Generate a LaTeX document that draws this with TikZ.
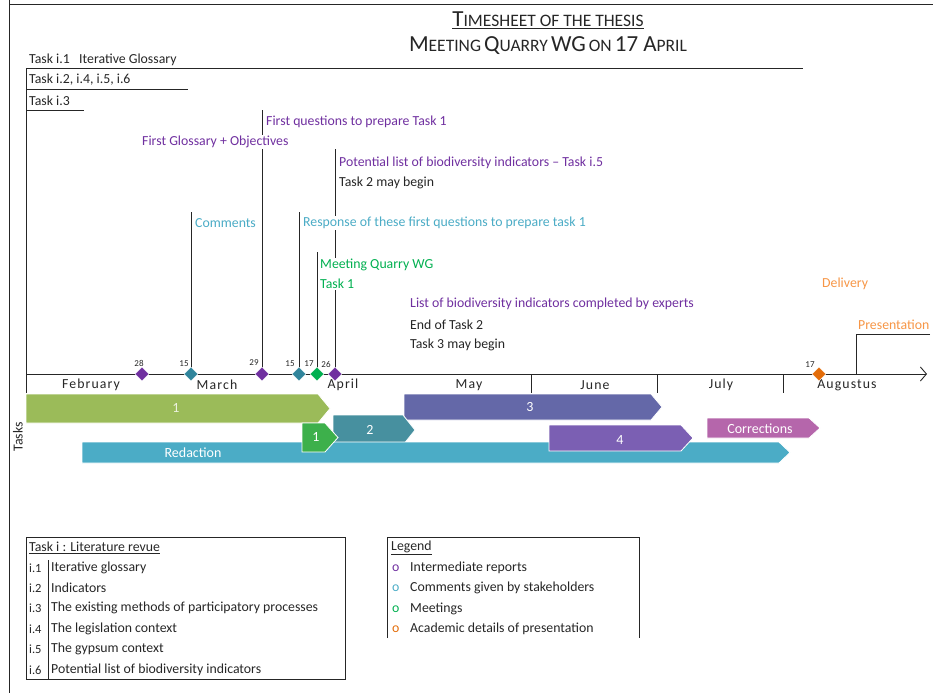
\documentclass[tikz,border=0pt]{standalone}
\usepackage{fontspec}
\setmainfont{Carlito}
\newfontfamily\spacedfont[LetterSpace=8]{Carlito}
\usetikzlibrary{arrows.meta,positioning,shapes.geometric,calc,backgrounds}
\definecolor{report}{HTML}{7030A0}
\definecolor{comment}{HTML}{4BACC6}
\definecolor{commentdk}{HTML}{31859C}
\definecolor{meeting}{HTML}{00B050}
\definecolor{academic}{HTML}{E36C09}
\definecolor{academictxt}{HTML}{F79646}
\definecolor{olivebar}{HTML}{9BBB59}
\definecolor{slatebar}{HTML}{6468A8}
\definecolor{tealbar}{HTML}{47909F}
\definecolor{greenbar}{HTML}{3DB04B}
\definecolor{violetbar}{HTML}{7B5FB3}
\definecolor{pinkbar}{HTML}{B566AB}
\definecolor{ink}{HTML}{262626}
% fake small caps for the title
\newcommand{\scbig}[1]{{\fontsize{23}{25}\selectfont #1}}
\newcommand{\scsmall}[1]{{\fontsize{17.5}{19}\selectfont #1}}
% chevron bar: colour, left, tip, top, bottom, tip length
\newcommand{\taskbar}[6]{%
  \filldraw[fill=#1,draw=white,line width=0.8pt] (#2,#4) -- ({#3-#6},#4) -- (#3,{(#4+#5)/2}) -- ({#3-#6},#5) -- (#2,#5) -- cycle;}

\begin{document}
\begin{tikzpicture}[x=1pt,y=-1pt,
  every node/.style={font=\fontsize{13.8}{16}\selectfont,inner sep=0pt,text=ink},
  rule/.style={draw=ink,line width=0.9pt},
  ev/.style={anchor=west,fill=white,inner sep=1pt},
  mile/.style={diamond,draw=white,line width=0.4pt,minimum size=14pt,inner sep=0pt},
  daylab/.style={font=\fontsize{9}{10}\selectfont},
  month/.style={font=\spacedfont\fontsize{13.8}{16}\selectfont},
  barlab/.style={text=white,font=\fontsize{14}{16}\selectfont},
  leg/.style={anchor=west,font=\fontsize{13.8}{16}\selectfont}]
\useasboundingbox (0,0) rectangle (933,693);
% frame
\draw[rule] (9,0) -- (9,693);
\draw[rule] (9,4) -- (933,4);

% title
\node (title) at (548,20) {\underline{\scbig{T}\scsmall{IMESHEET OF THE THESIS}}};
\node (subtitle) at (548,46) {\scbig{M}\scsmall{EETING} \scbig{Q}\scsmall{UARRY} \scbig{WG} \scsmall{ON} \scbig{17 A}\scsmall{PRIL}};

% task lines
\node[anchor=west] (ti1) at (29,60) {Task i.1 \ \ Iterative Glossary};
\node[anchor=west] (ti2) at (29,80) {Task i.2, i.4, i.5, i.6};
\node[anchor=west] (ti3) at (29,101) {Task i.3};
\draw[rule] (26,393) -- (26,68) -- (803,68);
\draw[rule] (26,89) -- (188,89);
\draw[rule] (26,110) -- (84,110);

% time axis
\draw[rule,-{Straight Barb[length=6pt,width=14pt]}] (26,374) -- (927,374);
\foreach \x in {531,657,783}
  \draw[rule] (\x,374) -- (\x,393);
\foreach \m/\x in {February/91,March/217,April/343,May/469,June/595,July/721,Augustus/847}
  \node[month] (m\m) at (\x,385) {\m};

% milestones
\node[mile,fill=report] (d28) at (142,374) {};
\node[mile,fill=commentdk] (d15a) at (191,374) {};
\node[mile,fill=report] (d29) at (262,374) {};
\node[mile,fill=commentdk] (d15b) at (299,374) {};
\node[mile,fill=meeting] (d17a) at (317,374) {};
\node[mile,fill=report] (d26) at (335,374) {};
\node[mile,fill=academic] (d17b) at (819,374) {};
\node[daylab] (l28) at (139,363) {28};
\node[daylab] (l15a) at (184,364) {15};
\node[daylab] (l29) at (254,363) {29};
\node[daylab] (l15b) at (290,364) {15};
\node[daylab] (l17a) at (309,364) {17};
\node[daylab] (l26) at (326,364) {26};
\node[daylab] (l17b) at (810,365) {17};

% stems
\coordinate (t15a) at (191,212);
\coordinate (t29) at (262,110);
\coordinate (t15b) at (299,212);
\coordinate (t17a) at (317,252);
\coordinate (t26) at (335,149);
\coordinate (presend) at (930,334);
\coordinate (presfoot) at (856,374);
\begin{scope}[on background layer]
\draw[rule] (t15a) -- (d15a.center);
\draw[rule] (t29) -- (d29.center);
\draw[rule] (t15b) -- (d15b.center);
\draw[rule] (t17a) -- (d17a.center);
\draw[rule] (t26) -- (d26.center);
\draw[rule] (presend) -| (presfoot);
\end{scope}

% events
\node[ev,text=report] (fq) at (265,122) {First questions to prepare Task 1};
\node[ev,text=report] (fg) at (141,142) {First Glossary + Objectives};
\node[ev,text=report] (pl) at (338,163) {Potential list of biodiversity indicators -- Task i.5};
\node[ev] (t2) at (338,183) {Task 2 may begin};
\node[ev,text=comment] (cm) at (194,223) {Comments};
\node[ev,text=comment] (rs) at (302,223) {Response of these first questions to prepare task 1};
\node[ev,text=meeting,align=left,font=\fontsize{13.8}{20}\selectfont] (mq) at (319,274) {Meeting Quarry WG\\Task 1};
\node[ev,text=report] (lb) at (409,304) {List of biodiversity indicators completed by experts};
\node[ev] (et) at (409,325) {End of Task 2};
\node[ev] (t3) at (409,345) {Task 3 may begin};
\node[ev,text=academictxt] (dl) at (821,284) {Delivery};
\node[ev,text=academictxt] (pr) at (857,325) {Presentation};

% bars
\taskbar{olivebar}{26}{330}{394}{423}{12}
\node[barlab,text=white!80!olivebar] (b1) at (176,408) {1};
\taskbar{slatebar}{404}{662}{394}{420}{11}
\node[barlab] (b3) at (530,407) {3};
\taskbar{tealbar}{333}{415}{415}{445}{12}
\node[barlab] (b2) at (370,430) {2};
\taskbar{comment}{82}{790}{442}{463}{11}
\node[barlab] (bred) at (193,453) {Redaction};
\taskbar{violetbar}{549}{693}{425}{451}{12}
\node[barlab] (b4) at (620,440) {4};
\taskbar{greenbar}{302}{338}{423}{452}{13}
\node[barlab] (b1g) at (316,437) {1};
\taskbar{pinkbar}{707}{820}{418}{438}{11}
\node[barlab] (bcor) at (760,429) {Corrections};
\node[rotate=90] (tasks) at (18,437) {Tasks};

% legend: literature review
\draw[rule] (26,537) rectangle (345,679);
\draw[rule] (48,560) -- (48,679);
\node[leg] (lithead) at (29,548) {\underline{Task i : Literature revue}};
\foreach \n/\t/\y in {1/Iterative glossary/568,2/Indicators/588,3/The existing methods of participatory processes/608,4/The legislation context/629,5/The gypsum context/649,6/Potential list of biodiversity indicators/670}{
  \node[leg,font=\fontsize{12.5}{14}\selectfont] (i\n) at (29,\y) {i.\n};
  \node[leg] (it\n) at (51,\y) {\t};
}

% legend: symbols
\draw[rule] (387,638) -- (387,537) -- (639,537) -- (639,638);
\node[leg] (leghead) at (391,548) {\underline{Legend}};
\foreach \c/\t/\y [count=\k] in {report/Intermediate reports/568,comment/Comments given by stakeholders/588,meeting/Meetings/609,academic/Academic details of presentation/629}{
  \node[leg,text=\c] (o\k) at (392,\y) {o};
  \node[leg] (ot\k) at (410,\y) {\t};
}
\end{tikzpicture}
\end{document}
